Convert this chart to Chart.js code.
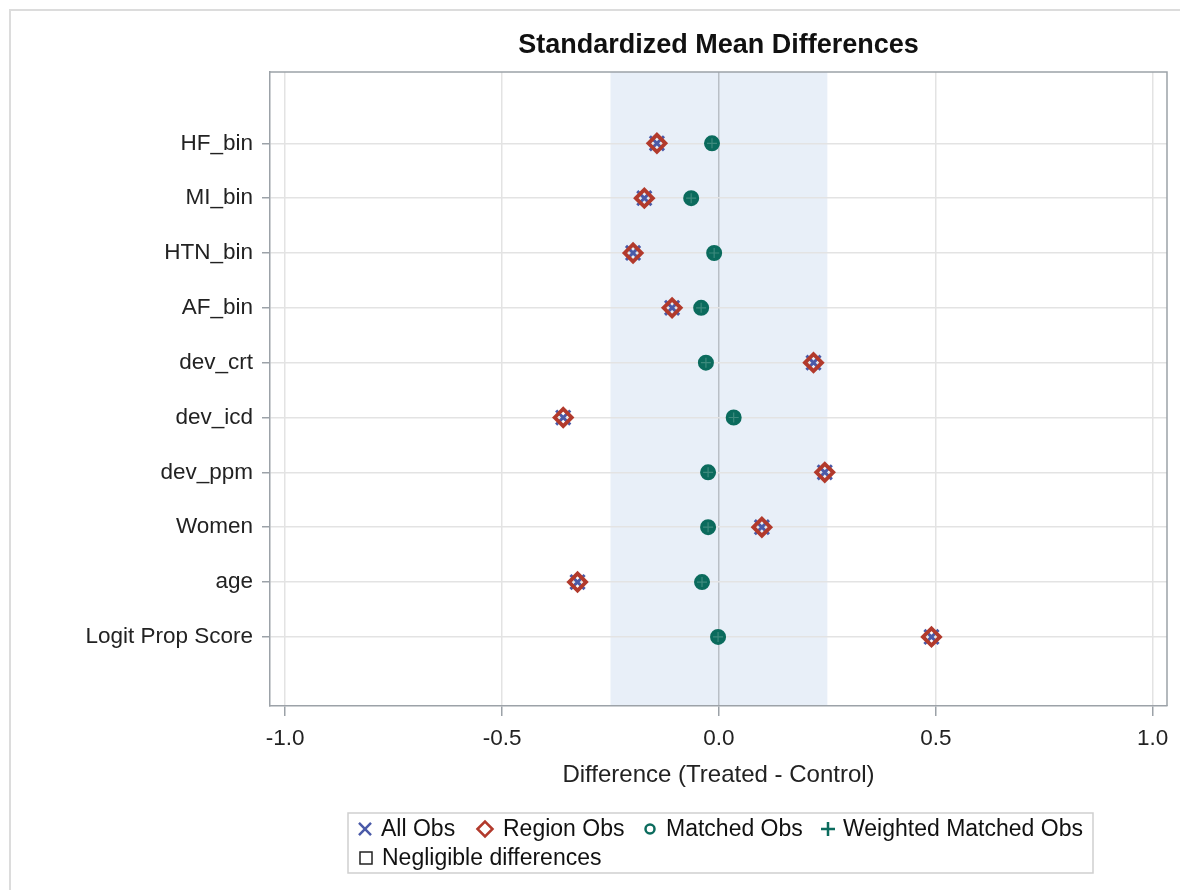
<!DOCTYPE html>
<html>
<head>
<meta charset="utf-8">
<script src="https://cdn.jsdelivr.net/npm/chart.js@4/dist/chart.umd.min.js"></script>
<style>
  html, body { margin: 0; padding: 0; background: #fff; }
  #wrap { position: relative; width: 1180px; height: 890px; }
  canvas { display: block; }
</style>
</head>
<body>
<div id="wrap"><canvas id="c" width="1180" height="890"></canvas></div>
<script>
// ---- data ----
const categories = ["HF_bin", "MI_bin", "HTN_bin", "AF_bin", "dev_crt", "dev_icd", "dev_ppm", "Women", "age", "Logit Prop Score"];
const allObs      = [-0.143, -0.172, -0.198, -0.108, 0.218, -0.359, 0.244, 0.099, -0.326, 0.490];
const regionObs   = [-0.143, -0.172, -0.198, -0.108, 0.218, -0.359, 0.244, 0.099, -0.326, 0.490];
const matchedObs  = [-0.016, -0.064, -0.011, -0.041, -0.030, 0.034, -0.025, -0.025, -0.039, -0.002];
const weightedObs = [-0.016, -0.064, -0.011, -0.041, -0.030, 0.034, -0.025, -0.025, -0.039, -0.002];
const xTicks = [-1.0, -0.5, 0.0, 0.5, 1.0];
const negligibleLimit = 0.25;
const titleText = "Standardized Mean Differences";
const xTitle = "Difference (Treated - Control)";
const negligibleLabel = "Negligible differences";

const FONT = "'Liberation Sans', Arial, sans-serif";
const BLUE = '#4a5aa8', RED = '#b23a2c', TEAL = '#0b6b5d';

function pts(arr) { return arr.map((v, i) => ({ x: v, y: i })); }

const datasets = [
  { label: 'All Obs', data: pts(allObs), pointStyle: 'crossRot', pointRadius: 10, pointBorderWidth: 3,
    borderColor: BLUE, backgroundColor: BLUE, legendStyle: 'crossRot', order: 2 },
  { label: 'Region Obs', data: pts(regionObs), pointStyle: 'rectRot', pointRadius: 8.5, pointBorderWidth: 3.8,
    borderColor: RED, backgroundColor: 'rgba(0,0,0,0)', legendStyle: 'rectRot', order: 1 },
  { label: 'Matched Obs', data: pts(matchedObs), pointStyle: 'circle', pointRadius: 7, pointBorderWidth: 2,
    borderColor: TEAL, backgroundColor: TEAL, legendStyle: 'circle', order: 3 },
  { label: 'Weighted Matched Obs', data: pts(weightedObs), pointStyle: 'cross', pointRadius: 5, pointBorderWidth: 1.2,
    borderColor: '#3d8a7d', backgroundColor: '#3d8a7d', legendStyle: 'cross', legendColor: TEAL, order: 0 },
];
datasets.forEach(d => { d.showLine = false; d.pointHoverRadius = d.pointRadius; });

const legendMarkerX = [365, 485, 650, 828];

const decorPlugin = {
  id: 'decor',
  beforeDraw(chart) {
    const { ctx, chartArea: a, scales } = chart;
    ctx.save();
    ctx.strokeStyle = '#dcdcdc';
    ctx.lineWidth = 2;
    ctx.beginPath();
    ctx.moveTo(10, 890); ctx.lineTo(10, 10); ctx.lineTo(1180, 10);
    ctx.stroke();
    const x1 = scales.x.getPixelForValue(-negligibleLimit);
    const x2 = scales.x.getPixelForValue(negligibleLimit);
    ctx.fillStyle = '#e8eff8';
    ctx.fillRect(x1, a.top, x2 - x1, a.bottom - a.top);
    ctx.restore();
  },
  afterDatasetsDraw(chart) {
    const { ctx, chartArea: a } = chart;
    ctx.save();
    ctx.strokeStyle = '#9ca2a8';
    ctx.lineWidth = 1.5;
    ctx.beginPath();
    ctx.moveTo(a.left, a.top); ctx.lineTo(a.right, a.top); ctx.lineTo(a.right, a.bottom);
    ctx.stroke();
    ctx.restore();
  },
  afterDraw(chart) {
    const { ctx, chartArea: a } = chart;
    ctx.save();
    ctx.fillStyle = '#111';
    ctx.font = "bold 27px " + FONT;
    ctx.textAlign = 'center';
    ctx.textBaseline = 'middle';
    ctx.fillText(titleText, (a.left + a.right) / 2, 46);

    const bx = 348, by = 813, bw = 745, bh = 60;
    ctx.strokeStyle = '#cfcfcf';
    ctx.lineWidth = 1.5;
    ctx.strokeRect(bx, by, bw, bh);
    ctx.font = "23px " + FONT;
    ctx.textAlign = 'left';
    ctx.textBaseline = 'middle';
    const y1 = 829, y2 = 858;
    chart.data.datasets.forEach((ds, i) => {
      const mx = legendMarkerX[i];
      const col = ds.legendColor || ds.borderColor;
      ctx.strokeStyle = col;
      ctx.fillStyle = 'rgba(0,0,0,0)';
      ctx.lineWidth = 2.5;
      if (ds.legendStyle === 'circle') {
        ctx.beginPath(); ctx.arc(mx, y1, 4.5, 0, Math.PI * 2); ctx.stroke();
      } else {
        const r = ds.legendStyle === 'rectRot' ? 7.5 : (ds.legendStyle === 'crossRot' ? 8.5 : 7);
        Chart.helpers.drawPoint(ctx, { pointStyle: ds.legendStyle, radius: r, borderWidth: 2.5, rotation: 0 }, mx, y1);
      }
      ctx.fillStyle = '#111';
      ctx.fillText(ds.label, mx + 16 + (i === 1 ? 2 : 0) + (i === 3 ? -1 : 0), y1 + 1);
    });
    ctx.strokeStyle = '#222';
    ctx.lineWidth = 1.5;
    ctx.strokeRect(360, y2 - 6, 12, 12);
    ctx.fillStyle = '#111';
    ctx.fillText(negligibleLabel, 382, y2 + 1);
    ctx.restore();
  }
};

new Chart(document.getElementById('c'), {
  type: 'scatter',
  data: { datasets },
  options: {
    responsive: false,
    animation: false,
    devicePixelRatio: 1,
    layout: { padding: { left: 0, top: 72, right: 11, bottom: 94 } },
    plugins: { legend: { display: false }, title: { display: false }, tooltip: { enabled: false } },
    scales: {
      x: {
        type: 'linear', min: -1.035, max: 1.033,
        afterBuildTicks: s => { s.ticks = xTicks.map(v => ({ value: v })); },
        afterFit: s => { s.height = 90; },
        ticks: { callback: v => v.toFixed(1), font: { family: FONT, size: 22.5 }, color: '#222', padding: 9, maxRotation: 0 },
        grid: { color: ctx => (ctx.tick && ctx.tick.value === 0 ? '#b9bfc6' : '#e3e3e3'), lineWidth: 1.5, tickLength: 10, tickColor: '#9ca2a8', tickWidth: 1.5 },
        border: { display: true, color: '#9ca2a8', width: 1.5 },
        title: { display: true, text: xTitle, font: { family: FONT, size: 24 }, color: '#222', padding: { top: 0, bottom: 6 } }
      },
      y: {
        type: 'linear', min: -1.3, max: 10.26, reverse: true,
        afterBuildTicks: s => { s.ticks = categories.map((c, i) => ({ value: i })); },
        afterFit: s => { s.width = 270; },
        ticks: { callback: v => categories[v], font: { family: FONT, size: 22.5 }, color: '#222', padding: 9 },
        grid: { color: '#e3e3e3', lineWidth: 1.5, tickLength: 8, tickColor: '#9ca2a8', tickWidth: 1.5 },
        border: { display: true, color: '#9ca2a8', width: 1.5 }
      }
    }
  },
  plugins: [decorPlugin]
});
</script>
</body>
</html>
